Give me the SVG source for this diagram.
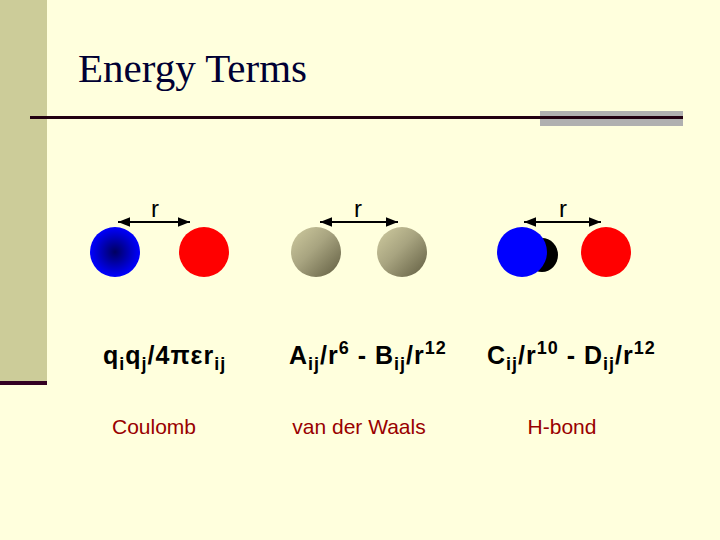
<svg xmlns="http://www.w3.org/2000/svg" width="720" height="540" viewBox="0 0 720 540">
<defs>
<radialGradient id="gb" cx="0.5" cy="0.5" r="0.5"><stop offset="0" stop-color="#000060"/><stop offset="1" stop-color="#0000ff"/></radialGradient>
<linearGradient id="gg" x1="0" y1="0" x2="1" y2="1"><stop offset="0" stop-color="#d0cca0"/><stop offset="0.45" stop-color="#a8a480"/><stop offset="1" stop-color="#605c40"/></linearGradient>
<marker id="ah" viewBox="0 0 10 10" refX="10" refY="5" markerWidth="6" markerHeight="6" orient="auto-start-reverse"><path d="M0,1 L10,5 L0,9 Z" fill="#000"/></marker>
<style>.f{font-family:"Liberation Sans",Arial,sans-serif;font-weight:bold;font-size:25px;fill:#000;letter-spacing:1px}.r{font-family:"Liberation Sans",Arial,sans-serif;font-size:24px;fill:#000}.l{font-family:"Liberation Sans",Arial,sans-serif;font-size:21px;fill:#990000}.a{stroke:#000;stroke-width:2;marker-start:url(#ah);marker-end:url(#ah)}</style>
</defs>
<rect width="720" height="540" fill="#ffffdd"/>
<rect width="47" height="385" fill="#cccc99"/>
<rect x="0" y="381" width="47" height="4" fill="#330022"/>
<rect x="540" y="111" width="143" height="15" fill="#b0b0b0"/>
<rect x="30" y="116" width="653" height="3" fill="#220011"/>
<text x="78" y="82" font-family="Liberation Serif,serif" font-size="41" fill="#000033">Energy Terms</text>
<g id="connectors">
<line class="a" x1="118" y1="222" x2="190" y2="222"/>
<line class="a" x1="320" y1="222" x2="398" y2="222"/>
<line class="a" x1="524" y1="222" x2="601" y2="222"/>
</g>
<g id="coulomb">
<text class="r" x="155" y="217" text-anchor="middle">r</text>
<ellipse cx="115" cy="252" rx="25" ry="25" fill="url(#gb)"/>
<ellipse cx="204" cy="252" rx="25" ry="25" fill="#ff0000"/>
<text class="f" x="103" y="364">q<tspan font-size="18" dy="6">i</tspan><tspan dy="-6">q</tspan><tspan font-size="18" dy="6">j</tspan><tspan dy="-6">/4πεr</tspan><tspan font-size="18" dy="6">ij</tspan></text>
<text class="l" x="154" y="434" text-anchor="middle">Coulomb</text>
</g>
<g id="vdw">
<text class="r" x="358" y="217" text-anchor="middle">r</text>
<ellipse cx="316" cy="252" rx="25" ry="25" fill="url(#gg)"/>
<ellipse cx="402" cy="252" rx="25" ry="25" fill="url(#gg)"/>
<text class="f" x="289" y="364">A<tspan font-size="18" dy="6">ij</tspan><tspan dy="-6">/r</tspan><tspan font-size="18" dy="-10">6</tspan><tspan dy="10"> - B</tspan><tspan font-size="18" dy="6">ij</tspan><tspan dy="-6">/r</tspan><tspan font-size="18" dy="-10">12</tspan></text>
<text class="l" x="359" y="434" text-anchor="middle">van der Waals</text>
</g>
<g id="hbond">
<text class="r" x="563" y="217" text-anchor="middle">r</text>
<ellipse cx="542" cy="255" rx="16" ry="17" fill="#000"/>
<ellipse cx="522" cy="252" rx="25" ry="25" fill="#0000ff"/>
<ellipse cx="606" cy="252" rx="25" ry="25" fill="#ff0000"/>
<text class="f" x="487" y="364">C<tspan font-size="18" dy="6">ij</tspan><tspan dy="-6">/r</tspan><tspan font-size="18" dy="-10">10</tspan><tspan dy="10"> - D</tspan><tspan font-size="18" dy="6">ij</tspan><tspan dy="-6">/r</tspan><tspan font-size="18" dy="-10">12</tspan></text>
<text class="l" x="562" y="434" text-anchor="middle">H-bond</text>
</g>
</svg>
